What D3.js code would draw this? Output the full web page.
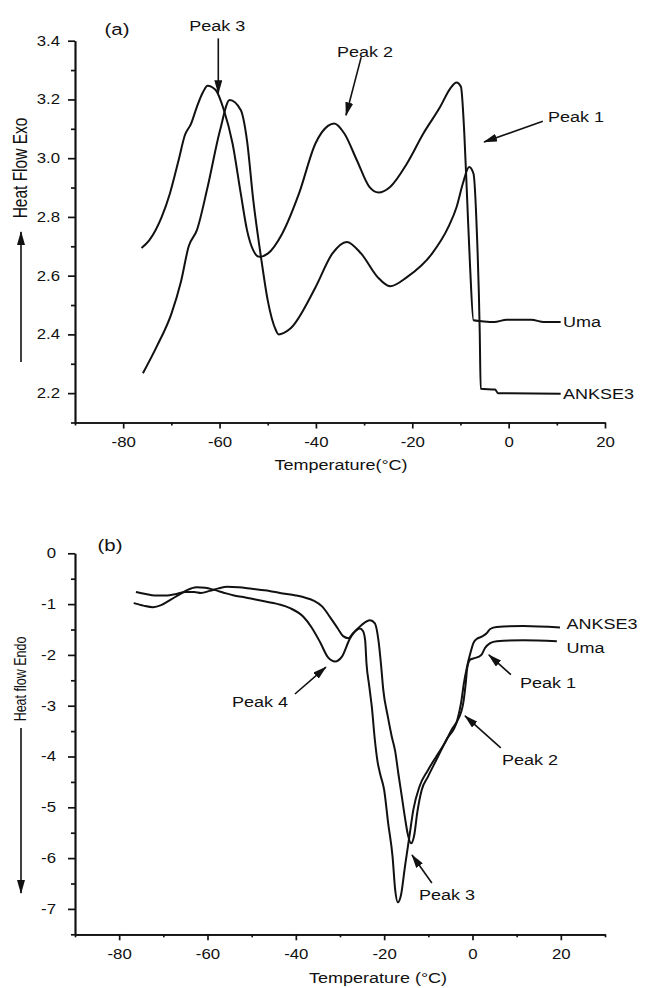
<!DOCTYPE html>
<html>
<head>
<meta charset="utf-8">
<script src="https://cdn.jsdelivr.net/npm/d3@7"></script>
<style>
  body { margin: 0; background: #fff; }
  svg { display: block; }
  text { font-family: "Liberation Sans", Arial, sans-serif; fill: #111; }
</style>
</head>
<body>
<svg id="chart" width="649" height="988"></svg>
<script>
// ---- panel (a): exotherm, Heat Flow Exo vs temperature ----
const umaA = [[-76.2,2.694],[-74.6,2.72],[-72.0,2.80],[-70.3,2.88],[-68.5,2.993],[-67.2,3.078],[-65.9,3.118],
  [-64.7,3.175],[-63.4,3.226],[-62.5,3.247],[-60.8,3.232],[-59.1,3.164],[-57.3,3.05],[-55.6,2.88],[-54.3,2.755],
  [-53.0,2.686],[-51.7,2.664],[-50,2.675],[-47.0,2.743],[-43.5,2.88],[-40.1,3.05],[-37.5,3.11],[-36.2,3.118],
  [-34.1,3.084],[-31.5,2.993],[-28.9,2.902],[-27.0,2.883],[-24.6,2.902],[-21.1,2.982],[-17.7,3.084],[-14.2,3.175],
  [-12.1,3.238],[-10.8,3.258],[-9.9,3.243],[-9.2,3.084],[-8.6,2.857],[-8.0,2.63],[-7.3,2.448],[-5.6,2.445],
  [-3.0,2.442],[-0.4,2.45],[4.7,2.45],[7.3,2.442],[10.8,2.442]];
const ankseA = [[-75.9,2.268],[-73,2.36],[-70,2.47],[-68,2.58],[-66.4,2.70],[-64.7,2.755],[-62.5,2.90],[-59.9,3.095],
  [-57.9,3.198],[-55.6,3.164],[-54.3,3.06],[-53.0,2.857],[-51.3,2.652],[-50,2.516],[-48.3,2.414],[-47.8,2.40],
  [-45.3,2.42],[-40.1,2.56],[-36.6,2.675],[-33.6,2.715],[-30.6,2.675],[-27.2,2.595],[-24.6,2.564],[-21.1,2.595],
  [-15.9,2.675],[-12.5,2.766],[-10.8,2.834],[-9.5,2.914],[-8.2,2.97],[-7.3,2.948],[-6.6,2.75],[-6.0,2.41],
  [-5.8,2.215],[-2.8,2.212],[-2.2,2.2],[10.8,2.198]];

// ---- panel (b): endotherm, Heat flow Endo vs temperature ----
const ankseB = [[-76.2,-0.76],[-74,-0.80],[-72,-0.83],[-69.5,-0.83],[-67,-0.80],[-65,-0.76],[-63,-0.76],[-61.5,-0.78],
  [-59.5,-0.74],[-57.5,-0.69],[-55.5,-0.66],[-53,-0.67],[-50,-0.70],[-46,-0.74],[-43.6,-0.78],[-40,-0.83],
  [-38,-0.87],[-36,-0.93],[-34,-1.05],[-32.3,-1.25],[-30.5,-1.48],[-29.3,-1.63],[-28.1,-1.67],[-27,-1.57],
  [-25.1,-1.41],[-23.2,-1.32],[-22.1,-1.38],[-21.3,-1.71],[-20.7,-2.2],[-20.2,-2.69],[-19.2,-3.2],[-18.3,-3.6],
  [-17.5,-3.9],[-16.8,-4.33],[-16.0,-4.79],[-15.3,-5.2],[-14.6,-5.55],[-13.9,-5.71],[-13.2,-5.55],[-12.5,-5.1],
  [-11.5,-4.66],[-10.1,-4.4],[-8.2,-4.07],[-5.9,-3.67],[-3.5,-3.3],[-2.6,-2.95],[-1.9,-2.53],[-1.3,-2.26],
  [-0.4,-1.94],[0.2,-1.77],[0.9,-1.69],[2.1,-1.64],[3.2,-1.575],[4.0,-1.49],[5.5,-1.45],[11.5,-1.43],[19.8,-1.46]];
const umaB = [[-76.7,-0.98],[-74.5,-1.03],[-72.3,-1.06],[-70.5,-1.02],[-68.5,-0.92],[-66.5,-0.82],[-64.5,-0.72],
  [-62.5,-0.67],[-60.5,-0.68],[-58.5,-0.72],[-56.5,-0.77],[-54,-0.83],[-51.9,-0.86],[-48,-0.93],[-44,-1.00],
  [-41.3,-1.08],[-38.3,-1.25],[-36.5,-1.45],[-34.5,-1.75],[-32.7,-2.05],[-31.1,-2.13],[-29.6,-2.04],[-27.7,-1.67],
  [-26.2,-1.51],[-25.5,-1.48],[-24.8,-1.53],[-24.3,-1.72],[-24.0,-2.17],[-23.4,-2.6],[-22.8,-3.02],[-22.1,-3.68],
  [-21.5,-4.1],[-20.95,-4.33],[-20.0,-4.66],[-19.1,-5.31],[-18.1,-5.97],[-17.5,-6.63],[-16.9,-6.87],[-16.2,-6.73],
  [-15.3,-6.17],[-14.3,-5.58],[-13.4,-5.05],[-12.0,-4.59],[-10.1,-4.27],[-8.2,-4.0],[-6.3,-3.74],[-4.5,-3.44],
  [-3.5,-3.31],[-2.1,-2.95],[-1.5,-2.53],[-1.2,-2.26],[-0.6,-2.10],[0.2,-2.07],[1.3,-2.04],[2.1,-1.99],
  [2.8,-1.87],[4.0,-1.77],[5.5,-1.73],[11.5,-1.71],[19.1,-1.73]];

// tick values
const xMajorA = [-80,-60,-40,-20,0,20];
const xMinorA = [-90,-70,-50,-30,-10,10];
const yMajorA = [2.2,2.4,2.6,2.8,3.0,3.2,3.4];
const yMinorA = [2.1,2.3,2.5,2.7,2.9,3.1,3.3];
const xMajorB = [-80,-60,-40,-20,0,20];
const xMinorB = [-90,-70,-50,-30,-10,10,30];
const yMajorB = [0,-1,-2,-3,-4,-5,-6,-7];
const yMinorB = [-0.5,-1.5,-2.5,-3.5,-4.5,-5.5,-6.5,-7.5];

// series names and where their labels sit (data units)
const seriesNames = ["Uma", "ANKSE3"];
const curveLabelsA = [[11.3,2.442],[11.3,2.198]];
const curveLabelsB = [[21.3,-1.86],[21.3,-1.39]];

// peak annotations: label, label pos, arrow tail, arrow head (data units)
const peaksA = [
  ["Peak 3", -60.5, 3.45, -60.26, 3.408, -60.26, 3.221],
  ["Peak 2", -29.8, 3.362, -30.6, 3.344, -33.75, 3.146],
  ["Peak 1", 14.0, 3.14, 7.1, 3.126, -5.1, 3.055]
];
const peaksB = [
  ["Peak 4", -48.1, -2.93, -40.2, -2.77, -33.2, -2.24],
  ["Peak 1", 17.1, -2.55, 8.7, -2.39, 3.7, -2.0],
  ["Peak 2", 13.0, -4.06, 6.4, -3.83, -1.7, -3.2],
  ["Peak 3", -5.8, -6.72, -9.2, -6.49, -13.7, -5.94]
];

const SX = 1.2; // the source figure is stretched horizontally
const svg = d3.select("#chart");

svg.append("defs").append("marker")
  .attr("id", "ah")
  .attr("markerUnits", "userSpaceOnUse")
  .attr("markerWidth", 14).attr("markerHeight", 8)
  .attr("refX", 13).attr("refY", 4)
  .attr("orient", "auto")
  .append("path").attr("d", "M0,0 L14,4 L0,8 Z").attr("fill", "#111");

function stretched(g, str, x, y, size, anchor) {
  return g.append("text")
    .attr("transform", `translate(${x},${y}) scale(${SX},1)`)
    .attr("text-anchor", anchor || "middle")
    .attr("dominant-baseline", "central")
    .style("font-size", size + "px")
    .text(str);
}

function drawPanel(p) {
  const g = svg.append("g");
  const x = d3.scaleLinear().domain(p.xDom).range([75, 605]);
  const y = d3.scaleLinear().domain(p.yDom).range(p.yRange);

  // minor ticks
  g.append("g").attr("transform", `translate(0,${p.yRange[0]})`)
    .call(d3.axisBottom(x).tickValues(p.xMinor).tickSize(3).tickFormat("").tickSizeOuter(0));
  g.append("g").attr("transform", "translate(75,0)")
    .call(d3.axisLeft(y).tickValues(p.yMinor).tickSize(4).tickFormat("").tickSizeOuter(0));

  // major ticks with labels
  const gx = g.append("g").attr("transform", `translate(0,${p.yRange[0]})`)
    .call(d3.axisBottom(x).tickValues(p.xMajor).tickSize(6).tickPadding(9).tickSizeOuter(0)
      .tickFormat(d => String(d)));
  const gy = g.append("g").attr("transform", "translate(75,0)")
    .call(d3.axisLeft(y).tickValues(p.yMajor).tickSize(7).tickSizeOuter(0).tickFormat(p.fmt));

  g.selectAll(".domain, .tick line").attr("stroke", "#111").attr("stroke-width", 1.7);
  g.selectAll(".tick text").style("font-size", "14px").style("font-family", "Liberation Sans, Arial, sans-serif")
    .attr("fill", "#111");
  gx.selectAll(".tick text").attr("transform", `scale(${SX},1)`);
  gy.selectAll(".tick text").attr("x", p.yLabelOff / SX).attr("transform", `scale(${SX},1)`);

  // curves
  const line = d3.line().x(d => x(d[0])).y(d => y(d[1])).curve(d3.curveMonotoneX);
  p.series.forEach(s => {
    g.append("path").datum(s).attr("d", line)
      .attr("fill", "none").attr("stroke", "#111").attr("stroke-width", 2)
      .attr("stroke-linejoin", "round");
  });
  p.curveLabels.forEach((c, i) => stretched(g, seriesNames[i], x(c[0]), y(c[1]), 15, "start"));

  // peak annotations
  p.peaks.forEach(a => {
    stretched(g, a[0], x(a[1]), y(a[2]), 15);
    g.append("line")
      .attr("x1", x(a[3])).attr("y1", y(a[4]))
      .attr("x2", x(a[5])).attr("y2", y(a[6]))
      .attr("stroke", "#111").attr("stroke-width", 1.6)
      .attr("marker-end", "url(#ah)");
  });

  // panel tag, axis titles
  stretched(g, p.tag, p.tagPos[0], p.tagPos[1], 17);
  stretched(g, p.xTitle, p.xTitlePos[0], p.xTitlePos[1], 15);
  g.append("text")
    .attr("transform", `translate(${p.yTitlePos[0]},${p.yTitlePos[1]}) rotate(-90) scale(1,1.3)`)
    .attr("text-anchor", "middle").attr("dominant-baseline", "central")
    .style("font-size", p.yTitleSize + "px")
    .text(p.yTitle);
  g.append("line")
    .attr("x1", p.yArrow[0]).attr("y1", p.yArrow[1])
    .attr("x2", p.yArrow[0]).attr("y2", p.yArrow[2])
    .attr("stroke", "#111").attr("stroke-width", 1.6)
    .attr("marker-end", "url(#ah)");
}

drawPanel({
  xDom: [-90, 20], yDom: [2.1, 3.4], yRange: [422.5, 40.7],
  xMajor: xMajorA, xMinor: xMinorA, yMajor: yMajorA, yMinor: yMinorA,
  fmt: d3.format(".1f"), yLabelOff: -15,
  series: [umaA, ankseA], curveLabels: curveLabelsA, peaks: peaksA,
  tag: "(a)", tagPos: [117, 29],
  xTitle: "Temperature(°C)", xTitlePos: [341, 465],
  yTitle: "Heat Flow Exo", yTitlePos: [20, 168], yTitleSize: 15.5,
  yArrow: [21, 362, 232]
});

drawPanel({
  xDom: [-90, 30], yDom: [-7.5, 0], yRange: [934.3, 553.3],
  xMajor: xMajorB, xMinor: xMinorB, yMajor: yMajorB, yMinor: yMinorB,
  fmt: d => String(d), yLabelOff: -19,
  series: [umaB, ankseB], curveLabels: curveLabelsB, peaks: peaksB,
  tag: "(b)", tagPos: [110, 545],
  xTitle: "Temperature (°C)", xTitlePos: [378, 978],
  yTitle: "Heat flow Endo", yTitlePos: [20, 679], yTitleSize: 12.5,
  yArrow: [21, 728, 893]
});
</script>
</body>
</html>
